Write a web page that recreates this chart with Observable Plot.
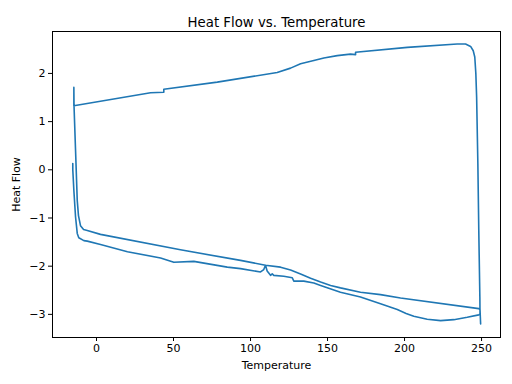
<!DOCTYPE html>
<html>
<head>
<meta charset="utf-8">
<script src="https://cdn.jsdelivr.net/npm/d3@7"></script>
<script src="https://cdn.jsdelivr.net/npm/@observablehq/plot@0.6"></script>
<style>
  html, body { margin: 0; padding: 0; background: #fff; }
  #chart svg { display: block; }
</style>
</head>
<body>
<div id="chart"></div>
<script>
// First heating run (lower, bumpy trace)
const heat1Temp = [-15.4, -15.4, -14.7, -13.6, -12.5, -11.5, -8.2, -6.0, 2.6, 20.1, 41.6, 50.2, 63.2, 84.9, 93.5, 106.5, 108.6, 109.7, 110.8, 113.0, 114.1, 115.1, 121.6, 127.1, 128.1, 134.6, 141.1, 145.5, 158.4, 171.4, 184.4, 195.3, 201.0, 206.0, 214.7, 223.4, 232.0, 240.7, 248.2, 249.0];
const heat1Flow = [0.13, 0.0, -0.43, -0.98, -1.32, -1.41, -1.47, -1.48, -1.55, -1.70, -1.83, -1.92, -1.90, -2.02, -2.05, -2.12, -2.07, -1.98, -2.10, -2.19, -2.16, -2.19, -2.21, -2.24, -2.31, -2.31, -2.35, -2.40, -2.54, -2.64, -2.78, -2.90, -2.98, -3.04, -3.10, -3.13, -3.11, -3.06, -3.01, -3.00];

// Cooling run (vertical rise at 250 and upper trace)
const coolTemp = [248.9, 248.2, 247.6, 246.8, 246.3, 245.6, 244.6, 242.9, 239.6, 234.2, 201.8, 168.2, 168.2, 164.9, 156.3, 147.6, 141.1, 132.5, 126.0, 117.3, 78.4, 43.7, 43.7, 35.1, -14.7];
const coolFlow = [-2.64, -1.26, 0.13, 1.51, 1.99, 2.34, 2.47, 2.56, 2.61, 2.61, 2.54, 2.44, 2.39, 2.40, 2.37, 2.32, 2.27, 2.20, 2.11, 2.02, 1.82, 1.67, 1.61, 1.60, 1.33];

// Second heating run (lower, smooth trace)
const heat2Temp = [-14.7, -14.6, -13.6, -12.5, -11.7, -10.4, -8.4, -6.0, 2.6, 54.5, 93.5, 109.7, 119.5, 126.0, 132.5, 139.0, 145.5, 152.0, 158.4, 171.4, 184.4, 197.4, 248.2, 249.0, 249.4];
const heat2Flow = [1.71, 1.33, 0.40, -0.64, -0.95, -1.16, -1.24, -1.26, -1.34, -1.66, -1.88, -1.98, -2.02, -2.08, -2.16, -2.25, -2.33, -2.40, -2.45, -2.54, -2.59, -2.66, -2.88, -2.90, -3.20];

const xTicks = [0, 50, 100, 150, 200, 250];
const yTicks = [-3, -2, -1, 0, 1, 2];

const titleText = "Heat Flow vs. Temperature";
const xLabel = "Temperature";
const yLabel = "Heat Flow";

const data = [];
heat1Temp.forEach((t, i) => data.push({t, h: heat1Flow[i]}));
coolTemp.forEach((t, i) => data.push({t, h: coolFlow[i]}));
heat2Temp.forEach((t, i) => data.push({t, h: heat2Flow[i]}));

const fmt = d3.format("d");

const chart = Plot.plot({
  width: 512,
  height: 384,
  marginLeft: 52,
  marginRight: 12,
  marginTop: 31,
  marginBottom: 47,
  style: {fontFamily: "DejaVu Sans", fontSize: "11px", color: "#000", background: "#fff"},
  x: {domain: [-28.57, 262.3]},
  y: {domain: [-3.48, 2.87]},
  marks: [
    Plot.axisX({ticks: xTicks, tickSize: 4, tickPadding: 3, tickFormat: fmt, label: xLabel, labelAnchor: "center", labelArrow: "none", labelOffset: 31}),
    Plot.axisY({ticks: yTicks, tickSize: 4, tickPadding: 3, tickFormat: fmt, label: yLabel, labelAnchor: "center", labelArrow: "none", labelOffset: 40}),
    Plot.line(data, {x: "t", y: "h", stroke: "#1f77b4", strokeWidth: 1.6, curve: "linear"}),
    Plot.frame({stroke: "#000", strokeWidth: 1}),
    Plot.text([titleText], {frameAnchor: "top", dy: -14, text: d => d, fontSize: 13.3, fill: "#000"})
  ]
});
document.getElementById("chart").appendChild(chart);
</script>
</body>
</html>
